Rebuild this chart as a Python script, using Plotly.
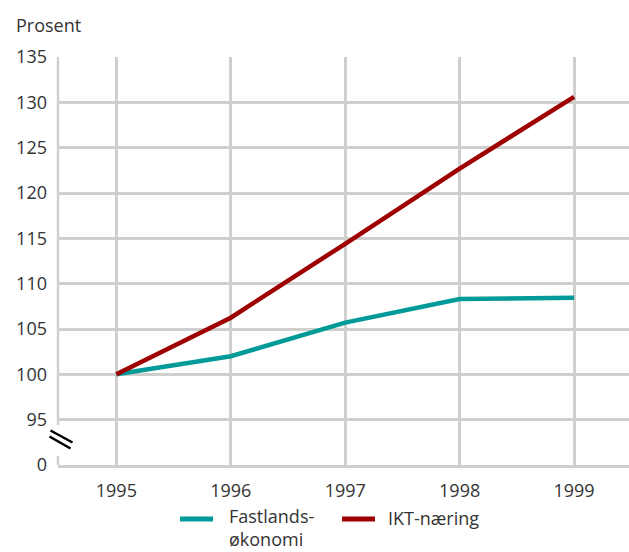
import plotly.graph_objects as go

# ---- data ----
years = [1995, 1996, 1997, 1998, 1999]
fastland = [100.0, 102.0, 105.7, 108.3, 108.45]
ikt = [100.0, 106.25, 114.4, 122.7, 130.6]
series_names = ["Fastlands-<br>økonomi", "IKT-næring"]
y_tickvals = [90, 95, 100, 105, 110, 115, 120, 125, 130, 135]
y_ticktext = ["0", "95", "100", "105", "110", "115", "120", "125", "130", "135"]
y_unit = "Prosent"

# ---- style ----
TEAL = "#009B98"
RED = "#9E0000"
GRID = "#cfcfcf"
TXT = "#333333"
FONT = "Open Sans"

W, H = 629, 552
ML, MR, MT, MB = 58, 0, 57, 87
plot_w = W - ML - MR
plot_h = H - MT - MB
y_lo, y_hi = 90, 135
ppu = plot_h / (y_hi - y_lo)


def px_to_y(py):
    return y_hi - (py - MT) / ppu


def px_to_xp(px):
    return (px - ML) / plot_w


def px_to_yp(py):
    return (H - MB - py) / plot_h


fig = go.Figure()
for name, vals, col in [(series_names[0], fastland, TEAL), (series_names[1], ikt, RED)]:
    fig.add_trace(go.Scatter(x=years, y=vals, mode="lines", name=name,
                             line=dict(color=col, width=4.5), showlegend=False,
                             hoverinfo="skip"))

shapes = []
# y axis line with break
shapes.append(dict(type="line", xref="paper", yref="y", x0=0, x1=0,
                   y0=y_hi, y1=px_to_y(425), line=dict(color=GRID, width=2.5)))
shapes.append(dict(type="line", xref="paper", yref="y", x0=0, x1=0,
                   y0=px_to_y(456), y1=y_lo, line=dict(color=GRID, width=2.5)))
# break marks
shapes.append(dict(type="line", xref="paper", yref="y",
                   x0=px_to_xp(50.5), y0=px_to_y(430.5), x1=px_to_xp(72.5), y1=px_to_y(442.5),
                   line=dict(color="black", width=2.5)))
shapes.append(dict(type="line", xref="paper", yref="y",
                   x0=px_to_xp(49.5), y0=px_to_y(436.5), x1=px_to_xp(70.5), y1=px_to_y(448.5),
                   line=dict(color="black", width=2.5)))
# legend samples
LEG_Y = 519
shapes.append(dict(type="line", xref="paper", yref="paper",
                   x0=px_to_xp(180), x1=px_to_xp(213), y0=px_to_yp(LEG_Y), y1=px_to_yp(LEG_Y),
                   line=dict(color=TEAL, width=5)))
shapes.append(dict(type="line", xref="paper", yref="paper",
                   x0=px_to_xp(342), x1=px_to_xp(375), y0=px_to_yp(LEG_Y), y1=px_to_yp(LEG_Y),
                   line=dict(color=RED, width=5)))

annotations = [
    dict(text=y_unit, xref="paper", yref="paper", x=px_to_xp(14), y=px_to_yp(25),
         xanchor="left", yanchor="middle", showarrow=False,
         font=dict(family=FONT, size=18, color=TXT)),
    dict(text=series_names[0], xref="paper", yref="paper", x=px_to_xp(228), y=px_to_yp(551.5),
         xanchor="left", yanchor="bottom", align="left", showarrow=False, borderpad=0,
         font=dict(family=FONT, size=18, color=TXT)),
    dict(text=series_names[1], xref="paper", yref="paper", x=px_to_xp(387), y=px_to_yp(LEG_Y - 1),
         xanchor="left", yanchor="middle", align="left", showarrow=False, borderpad=0,
         font=dict(family=FONT, size=18, color=TXT)),
]

fig.update_layout(
    width=W, height=H,
    margin=dict(l=ML, r=MR, t=MT, b=MB),
    paper_bgcolor="white", plot_bgcolor="white",
    font=dict(family=FONT, size=18, color=TXT),
    shapes=shapes, annotations=annotations,
    showlegend=False,
)
fig.update_xaxes(range=[1994.49, 1999.48], tickvals=years, ticktext=[str(y) for y in years],
                 showgrid=True, gridcolor=GRID, gridwidth=2.5, zeroline=False,
                 showline=True, linecolor=GRID, linewidth=2.5, ticks="",
                 ticklabelstandoff=8, tickfont=dict(family=FONT, size=18, color=TXT))
fig.update_yaxes(range=[y_lo, y_hi], tickvals=y_tickvals, ticktext=y_ticktext,
                 showgrid=True, gridcolor=GRID, gridwidth=2.5, zeroline=False,
                 showline=False, ticks="", ticklabelstandoff=10,
                 tickfont=dict(family=FONT, size=18, color=TXT))

fig.write_html(
    "out.html",
    config={"displayModeBar": False},
    post_script="document.body.style.margin='0px';document.documentElement.style.overflow='hidden';document.body.style.overflow='hidden';",
)
